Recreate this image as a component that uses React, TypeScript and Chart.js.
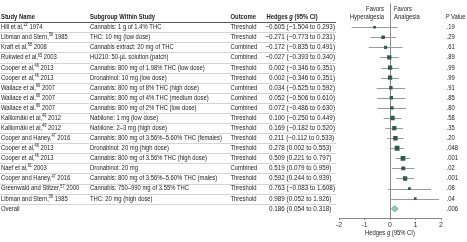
import { useEffect, useRef } from "react";
import { Chart, registerables } from "chart.js";
Chart.register(...registerables);

const authors = ["Hill et al,", "Libman and Stern,", "Kraft et al,", "Rukwied et al,", "Cooper et al,", "Cooper et al,", "Wallace et al,", "Wallace et al,", "Wallace et al,", "Kalliomäki et al,", "Kalliomäki et al,", "Cooper and Haney,", "Cooper et al,", "Cooper et al,", "Naef et al,", "Cooper and Haney,", "Greenwald and Stitzer,", "Libman and Stern,"];
const refs = ["22", "56", "58", "65", "46", "46", "66", "66", "66", "49", "49", "47", "46", "46", "61", "47", "57", "56"];
const years = ["1974", "1985", "2008", "2003", "2013", "2013", "2007", "2007", "2007", "2012", "2012", "2016", "2013", "2013", "2003", "2016", "2000", "1985"];
const subgroups = [
  "Cannabis: 1 g of 1.4% THC",
  "THC: 10 mg (low dose)",
  "Cannabis extract: 20 mg of THC",
  "HU210: 50-μL solution (patch)",
  "Cannabis: 800 mg of 1.98% THC (low dose)",
  "Dronabinol: 10 mg (low dose)",
  "Cannabis: 800 mg of 8% THC (high dose)",
  "Cannabis: 800 mg of 4% THC (medium dose)",
  "Cannabis: 800 mg of 2% THC (low dose)",
  "Nabilone: 1 mg (low dose)",
  "Nabilone: 2–3 mg (high dose)",
  "Cannabis: 800 mg of 3.56%–5.60% THC (females)",
  "Dronabinol: 20 mg (high dose)",
  "Cannabis: 800 mg of 3.56% THC (high dose)",
  "Dronabinol: 20 mg",
  "Cannabis: 800 mg of 3.56%–5.60% THC (males)",
  "Cannabis: 750–990 mg of 3.55% THC",
  "THC: 20 mg (high dose)",
];
const outcomes = ["Threshold", "Threshold", "Combined", "Combined", "Threshold", "Threshold", "Combined", "Combined", "Combined", "Threshold", "Threshold", "Threshold", "Threshold", "Threshold", "Combined", "Threshold", "Threshold", "Threshold"];
const hedges = [-0.605, -0.271, -0.172, -0.027, 0.002, 0.002, 0.034, 0.052, 0.072, 0.1, 0.169, 0.211, 0.278, 0.509, 0.519, 0.592, 0.763, 0.989];
const ciLow = [-1.504, -0.773, -0.835, -0.393, -0.346, -0.346, -0.525, -0.506, -0.486, -0.25, -0.182, -0.112, 0.002, 0.221, 0.079, 0.244, -0.083, 0.052];
const ciHigh = [0.293, 0.231, 0.491, 0.34, 0.351, 0.351, 0.592, 0.61, 0.63, 0.449, 0.52, 0.533, 0.553, 0.797, 0.959, 0.939, 1.608, 1.926];
const pValues = [".19", ".29", ".61", ".89", ".99", ".99", ".91", ".85", ".80", ".58", ".35", ".20", ".048", ".001", ".02", ".001", ".08", ".04"];
const overallLabel = "Overall";
const overallG = 0.186;
const overallLow = 0.054;
const overallHigh = 0.318;
const overallP = ".006";
const xTicks = [-2, -1, 0, 1, 2];

const fmt = (v: number) => (v < 0 ? "−" : "") + Math.abs(v).toFixed(3);

const FAM = "'Liberation Sans', Arial, sans-serif";

export default function App() {
  const ref = useRef<HTMLCanvasElement>(null);
  useEffect(() => {
    document.body.style.margin = "0";
    const canvas = ref.current!;
    const c0 = canvas.getContext("2d")!;
    const F = (size: number, weight = "normal", style = "normal") => `${style} ${weight} ${size}px ${FAM}`;
    c0.font = F(7);
    const sxText = 132 / c0.measureText("Cannabis: 800 mg of 3.56%–5.60% THC (females)").width;
    const sxNum = 66 / c0.measureText("0.002 (−0.346 to 0.351)").width;
    const TXT = "#222";
    const n = hedges.length;

    type Seg = { t: string; font: string; dy?: number };
    const rich = (ctx: CanvasRenderingContext2D, segs: Seg[], x: number, y: number, align: "left" | "center" | "right" = "left", sx = sxText) => {
      let total = 0;
      for (const s of segs) { ctx.font = s.font; total += ctx.measureText(s.t).width * sx; }
      let cx = align === "left" ? x : align === "center" ? x - total / 2 : x - total;
      ctx.textAlign = "left";
      ctx.textBaseline = "middle";
      for (const s of segs) {
        ctx.font = s.font;
        const w = ctx.measureText(s.t).width * sx;
        ctx.fillText(s.t, cx, y + (s.dy || 0), w);
        cx += w;
      }
    };

    const forest = {
      id: "forest",
      beforeDatasetsDraw(chart: any) {
        const ctx = chart.ctx as CanvasRenderingContext2D;
        const xs = chart.scales.x, ys = chart.scales.y;
        const a = chart.chartArea;
        ctx.save();
        ctx.strokeStyle = "#8a8a8a";
        ctx.lineWidth = 1;
        const x0 = Math.round(xs.getPixelForValue(0)) + 0.5;
        ctx.beginPath();
        ctx.moveTo(x0, a.top);
        ctx.lineTo(x0, a.bottom);
        ctx.stroke();
        ctx.strokeStyle = "#9a9a9a";
        for (let i = 0; i < n; i++) {
          const y = Math.round(ys.getPixelForValue(i)) + 0.5;
          ctx.beginPath();
          ctx.moveTo(xs.getPixelForValue(ciLow[i]), y);
          ctx.lineTo(xs.getPixelForValue(ciHigh[i]), y);
          ctx.stroke();
        }
        ctx.restore();
      },
      afterDatasetsDraw(chart: any) {
        const ctx = chart.ctx as CanvasRenderingContext2D;
        const xs = chart.scales.x, ys = chart.scales.y;
        const y = ys.getPixelForValue(n);
        const l = xs.getPixelForValue(overallLow), r = xs.getPixelForValue(overallHigh), m = xs.getPixelForValue(overallG);
        ctx.save();
        ctx.beginPath();
        ctx.moveTo(l, y);
        ctx.lineTo(m, y - 3.2);
        ctx.lineTo(r, y);
        ctx.lineTo(m, y + 3.2);
        ctx.closePath();
        ctx.fillStyle = "#93cbbd";
        ctx.fill();
        ctx.strokeStyle = "#5d9e8f";
        ctx.lineWidth = 0.8;
        ctx.stroke();
        ctx.restore();
      },
      afterDraw(chart: any) {
        const ctx = chart.ctx as CanvasRenderingContext2D;
        const xs = chart.scales.x, ys = chart.scales.y;
        const a = chart.chartArea;
        ctx.save();
        ctx.fillStyle = TXT;
        const colStudy = 1, colSub = 90, colOut = 230.5, colG = 269, colP = 446.5, tableRight = 336;
        const hy = ys.getPixelForValue(-1);
        rich(ctx, [{ t: "Study Name", font: F(7, "bold") }], colStudy, hy);
        rich(ctx, [{ t: "Subgroup Within Study", font: F(7, "bold") }], colSub, hy);
        rich(ctx, [{ t: "Outcome", font: F(7, "bold") }], colOut, hy);
        rich(ctx, [{ t: "Hedges ", font: F(7, "bold") }, { t: "g", font: F(7, "bold", "italic") }, { t: " (95% CI)", font: F(7, "bold") }], colG - 2.5, hy);
        rich(ctx, [{ t: "P", font: F(7, "normal", "italic") }, { t: " Value", font: F(7) }], colP - 1, hy);
        const x0 = xs.getPixelForValue(0);
        rich(ctx, [{ t: "Favors", font: F(7) }], x0 - 6, hy - 8, "right");
        rich(ctx, [{ t: "Hyperalgesia", font: F(7) }], x0 - 6, hy, "right");
        rich(ctx, [{ t: "Favors", font: F(7) }], x0 + 4, hy - 8);
        rich(ctx, [{ t: "Analgesia", font: F(7) }], x0 + 4, hy);
        ctx.lineWidth = 1;
        ctx.strokeStyle = "#555";
        let ly = Math.round(ys.getPixelForValue(-0.5)) + 0.5;
        ctx.beginPath(); ctx.moveTo(0, ly); ctx.lineTo(tableRight, ly); ctx.stroke();
        ctx.strokeStyle = "#d4d4d4";
        for (let i = 0; i < n; i++) {
          ly = Math.round(ys.getPixelForValue(i + 0.5)) + 0.5;
          ctx.beginPath(); ctx.moveTo(0, ly); ctx.lineTo(tableRight, ly); ctx.stroke();
        }
        ctx.font = F(7);
        const minusW = ctx.measureText("−").width * sxNum;
        const gText = (g: number, lo: number, hi: number, y: number) => {
          const x = g < 0 ? colG - minusW : colG;
          rich(ctx, [{ t: `${fmt(g)} (${fmt(lo)} to ${fmt(hi)})`, font: F(7) }], x, y, "left", sxNum);
        };
        for (let i = 0; i < n; i++) {
          const y = ys.getPixelForValue(i);
          rich(ctx, [{ t: authors[i], font: F(7) }, { t: refs[i], font: F(4.6), dy: -2.2 }, { t: " " + years[i], font: F(7) }], colStudy, y);
          rich(ctx, [{ t: subgroups[i], font: F(7) }], colSub, y);
          rich(ctx, [{ t: outcomes[i], font: F(7) }], colOut, y);
          gText(hedges[i], ciLow[i], ciHigh[i], y);
          rich(ctx, [{ t: pValues[i], font: F(7) }], colP, y);
        }
        const oy = ys.getPixelForValue(n);
        rich(ctx, [{ t: overallLabel, font: F(7) }], colStudy, oy);
        gText(overallG, overallLow, overallHigh, oy);
        rich(ctx, [{ t: overallP, font: F(7) }], colP, oy);
        rich(ctx, [{ t: "Hedges ", font: F(7) }, { t: "g", font: F(7, "normal", "italic") }, { t: " (95% CI)", font: F(7) }], (a.left + a.right) / 2, a.bottom + 15, "center");
        ctx.restore();
      },
    };

    const sides = hedges.map((_, i) => {
      const hw = (ciHigh[i] - ciLow[i]) / 2;
      return Math.min(5.2, Math.max(2.4, 2.55 / Math.sqrt(hw)));
    });

    const chart = new Chart(canvas, {
      type: "scatter",
      data: {
        datasets: [
          {
            data: hedges.map((g, i) => ({ x: g, y: i })),
            pointStyle: "rect",
            pointRadius: sides.map((s) => s / Math.SQRT2),
            pointHoverRadius: sides.map((s) => s / Math.SQRT2),
            pointBackgroundColor: "#2c5b52",
            pointBorderWidth: 0,
          },
        ],
      },
      options: {
        animation: false,
        responsive: true,
        maintainAspectRatio: false,
        events: [],
        layout: { padding: { left: 339, right: 26, top: 2, bottom: 0 } },
        plugins: { legend: { display: false }, tooltip: { enabled: false } },
        scales: {
          x: {
            type: "linear",
            min: xTicks[0],
            max: xTicks[xTicks.length - 1],
            afterBuildTicks: (s: any) => { s.ticks = xTicks.map((v) => ({ value: v })); },
            ticks: { font: { size: 7, family: FAM }, color: "#333", padding: 1, maxRotation: 0, autoSkip: false },
            grid: { drawOnChartArea: false, drawTicks: true, tickLength: 2, color: "#888" },
            border: { color: "#888" },
            afterFit: (s: any) => { s.height = 24; },
          },
          y: { type: "linear", display: false, min: -2.36, max: 18.92, reverse: true },
        },
      },
      plugins: [forest],
    } as any);
    return () => chart.destroy();
  }, []);
  return (
    <div style={{ width: 467, height: 242, position: "relative" }}>
      <canvas ref={ref} />
    </div>
  );
}
